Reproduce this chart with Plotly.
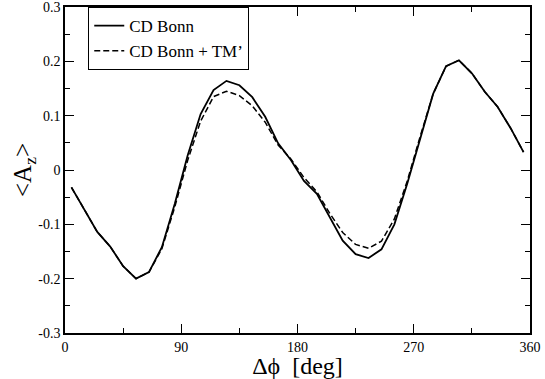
import plotly.graph_objects as go

# azimuthal angle (deg) and asymmetry values
dphi = [5, 15, 25, 35, 45, 55, 65, 75, 85, 95, 105, 115, 125, 135, 145, 155, 165, 175,
        185, 195, 205, 215, 225, 235, 245, 255, 265, 275, 285, 295, 305, 315, 325, 335, 345, 355]

az_bonn = [-0.032, -0.073, -0.114, -0.141, -0.177, -0.200, -0.188, -0.142, -0.062, 0.027,
           0.103, 0.147, 0.164, 0.156, 0.134, 0.098, 0.049, 0.018,
           -0.020, -0.044, -0.088, -0.130, -0.155, -0.162, -0.146, -0.100, -0.025, 0.060,
           0.140, 0.191, 0.202, 0.178, 0.144, 0.116, 0.077, 0.033]

az_bonn_tm = [-0.032, -0.073, -0.114, -0.141, -0.177, -0.200, -0.188, -0.145, -0.068, 0.018,
              0.090, 0.135, 0.145, 0.137, 0.118, 0.088, 0.046, 0.020,
              -0.014, -0.040, -0.080, -0.115, -0.137, -0.144, -0.131, -0.090, -0.020, 0.062,
              0.140, 0.191, 0.202, 0.178, 0.144, 0.116, 0.077, 0.033]

x_ticks = [0, 90, 180, 270, 360]
y_ticks = [-0.3, -0.2, -0.1, 0, 0.1, 0.2, 0.3]
y_labels = ["-0.3", "-0.2", "-0.1", "0", "0.1", "0.2", "0.3"]

serif = "Liberation Serif"

fig = go.Figure()

fig.add_trace(go.Scatter(
    x=dphi, y=az_bonn, mode="lines", name="CD Bonn",
    line=dict(color="black", width=1.8)))

fig.add_trace(go.Scatter(
    x=dphi, y=az_bonn_tm, mode="lines", name="CD Bonn + TM\u2019",
    line=dict(color="black", width=1.5, dash="6px,3px")))

axis_common = dict(
    showline=True, linecolor="black", linewidth=1.5, mirror="ticks",
    ticks="inside", ticklen=9, tickwidth=1, tickcolor="black",
    showgrid=False, zeroline=False, ticklabeloverflow="allow",
)

fig.update_xaxes(
    range=[0, 360], tickmode="array", tickvals=x_ticks, ticktext=[str(v) for v in x_ticks],
    tickfont=dict(family=serif, size=14, color="black"),
    minor=dict(dtick=45, ticks="inside", ticklen=5, tickcolor="black", showgrid=False),
    title=dict(text="\u0394\u03d5  [deg]", font=dict(family=serif, size=24, color="black"),
               standoff=0),
    **axis_common)

fig.update_yaxes(
    range=[-0.3, 0.3], tickmode="array", tickvals=y_ticks, ticktext=y_labels,
    tickfont=dict(family=serif, size=14, color="black"),
    minor=dict(dtick=0.05, tick0=0, ticks="inside", ticklen=5, tickcolor="black", showgrid=False),
    title=dict(text="&lt;A<sub>z</sub>&gt;", font=dict(family=serif, size=25, color="black"),
               standoff=0),
    **axis_common)

fig.update_layout(
    width=545, height=379,
    font=dict(family=serif, size=14, color="black"),
    margin=dict(l=65, r=15, t=7, b=46, autoexpand=False),
    plot_bgcolor="white", paper_bgcolor="white",
    showlegend=True,
    legend=dict(x=0.05, y=1, xanchor="left", yanchor="top",
                bordercolor="black", borderwidth=1, bgcolor="white",
                font=dict(family=serif, size=17, color="black"),
                tracegroupgap=0, itemwidth=30),
)

fig.write_html("out.html", config={"displayModeBar": False},
               post_script="document.body.style.margin='0';")
